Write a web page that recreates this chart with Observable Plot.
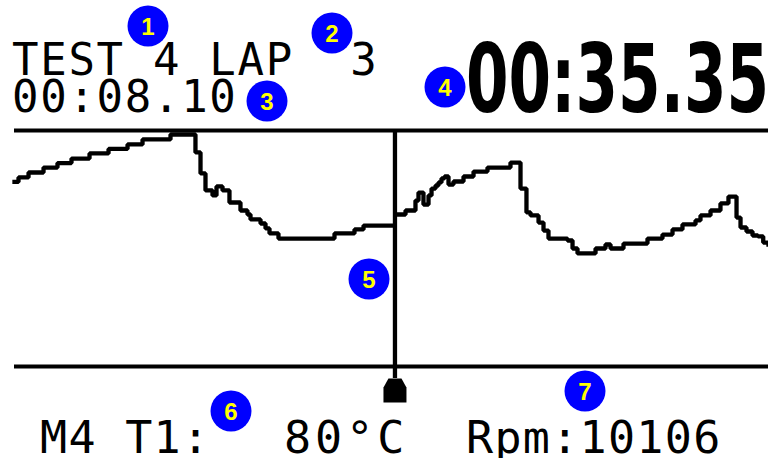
<!DOCTYPE html>
<html><head><meta charset="utf-8">
<script src="https://cdn.jsdelivr.net/npm/d3@7"></script>
<script src="https://cdn.jsdelivr.net/npm/@observablehq/plot@0.6"></script>
<style>
html,body{margin:0;padding:0;background:#fff;}
#chart{position:relative;width:768px;height:458px;overflow:hidden;}
</style></head><body><div id="chart"></div>
<script>
// Trace drawn since the cursor (left part): lap distance (%) and value (% of full scale)
const newLapX = [0, 0.53, 1.86, 3.85, 5.70, 7.56, 9.95, 12.47, 14.99, 16.98, 20.69, 24.0, 24.67, 25.33, 26.26, 26.79, 27.59, 28.51, 29.97, 30.90, 31.30, 32.63, 33.29, 33.82, 35.01, 42.44, 45.09, 46.29, 50.4];
const newLapY = [78.2, 80.1, 82.2, 84.3, 86.2, 88.1, 90.3, 92.2, 94.1, 96.2, 98.3, 90.7, 81.8, 74.6, 72.5, 76.3, 74.6, 69.5, 66.1, 64.4, 62.3, 60.6, 58.5, 56.4, 54.2, 56.4, 58.1, 59.7, 59.7];
// Older trace still on screen (right of cursor)
const oldLapX = [50.5, 51.86, 53.18, 53.58, 54.24, 54.91, 55.31, 55.84, 56.23, 56.63, 57.03, 57.56, 58.22, 59.55, 60.88, 62.73, 65.78, 67.11, 67.90, 68.44, 69.50, 70.16, 70.82, 73.34, 74.01, 74.67, 77.06, 78.38, 79.05, 80.77, 83.95, 85.94, 87.27, 88.59, 90.32, 90.98, 92.31, 93.63, 94.69, 95.76, 96.29, 97.08, 97.88, 98.6, 99.3, 100];
const oldLapY = [64.4, 66.1, 70.3, 73.7, 68.6, 72.5, 75.4, 76.7, 78.0, 79.7, 80.5, 77.1, 78.4, 80.5, 82.6, 84.3, 86.4, 75.4, 65.3, 64.0, 61.0, 57.6, 54.2, 53.4, 50.0, 47.9, 50.0, 51.7, 50.0, 52.1, 54.2, 55.9, 58.1, 60.2, 61.9, 64.0, 66.1, 69.1, 72.0, 63.1, 58.9, 57.2, 55.5, 55.1, 52.5, 51.7];
const cursorPos = 50.46;
const yDomain = [0, 100];
const xDomain = [0, 100];

// Texts
const headerLine1 = "TEST 4 LAP  3";
const headerLine2 = "00:08.10";
const lapTime = "00:35.35";
const footerLabel = "M4 T1:";
const footerTemp = "80°C";
const footerRpm = "Rpm:10106";
const calloutLabels = ["1", "2", "3", "4", "5", "6", "7"];

// Layout (pixels) for the overlay callouts
const calloutLayout = [[148, 26], [332, 33], [267, 101], [445, 87], [369, 279], [231, 411], [585, 391]];

const rows = [
  ...newLapX.map((x, i) => ({x, y: newLapY[i], seg: "new"})),
  ...oldLapX.map((x, i) => ({x, y: oldLapY[i], seg: "old"}))
];

const markerSymbol = {
  draw(ctx, size) {
    ctx.moveTo(-6.5, -12);
    ctx.lineTo(6.5, -12);
    ctx.lineTo(11.5, -3);
    ctx.lineTo(11.5, 12);
    ctx.lineTo(-11.5, 12);
    ctx.lineTo(-11.5, -3);
    ctx.closePath();
  }
};

const svg = Plot.plot({
  width: 768,
  height: 458,
  marginTop: 130,
  marginBottom: 92,
  marginLeft: 14,
  marginRight: 0,
  x: {domain: xDomain, axis: null},
  y: {domain: yDomain, axis: null},
  marks: [
    Plot.ruleY(yDomain, {stroke: "black", strokeWidth: 4.2}),
    Plot.line(rows, {x: "x", y: "y", z: "seg", curve: "step-after", stroke: "black", strokeWidth: 4.3, strokeLinecap: "square", strokeLinejoin: "miter"}),
    Plot.ruleX([cursorPos], {x: d => d, stroke: "black", strokeWidth: 4.3, insetBottom: -12}),
    Plot.dot([cursorPos], {x: d => d, frameAnchor: "bottom", dy: 24, r: 12, symbol: markerSymbol, fill: "black", stroke: "none"})
  ]
});
document.getElementById("chart").appendChild(svg);

const s = d3.select(svg);
const mono = "'DejaVu Sans Mono', monospace";
function addText(txt, x, y, size, ls, opts = {}) {
  const t = s.append("text")
    .attr("x", x).attr("y", y)
    .attr("text-anchor", "start")
    .attr("fill", "black")
    .style("font-family", opts.family || mono)
    .style("font-size", size + "px")
    .style("font-weight", opts.weight || "normal")
    .style("letter-spacing", ls + "px")
    .style("white-space", "pre")
    .text(txt);
  if (opts.textLength) t.attr("textLength", opts.textLength).attr("lengthAdjust", "spacingAndGlyphs");
  return t;
}
addText(headerLine1, 12, 75, 44, 1.7);
addText(headerLine2, 12, 112, 44, 1.7);
addText(lapTime, 466, 112, 95, 0, {family: "'DejaVu Sans', sans-serif", weight: "bold", textLength: 303});
addText(footerLabel, 40, 453, 45, 1.3);
addText(footerTemp, 284, 453, 45, 4);
addText(footerRpm, 466, 453, 45, 1.3);

const g = s.append("g");
calloutLabels.forEach((lab, i) => {
  const [cx, cy] = calloutLayout[i];
  g.append("circle").attr("cx", cx).attr("cy", cy).attr("r", 20.5).attr("fill", "#0000ff");
  g.append("text").attr("x", cx).attr("y", cy + 8.5)
    .attr("text-anchor", "middle")
    .attr("fill", "#ffff00")
    .style("font-family", "'Liberation Sans', Arial, sans-serif")
    .style("font-weight", "bold")
    .style("font-size", "24px")
    .text(lab);
});
</script>
</body></html>
